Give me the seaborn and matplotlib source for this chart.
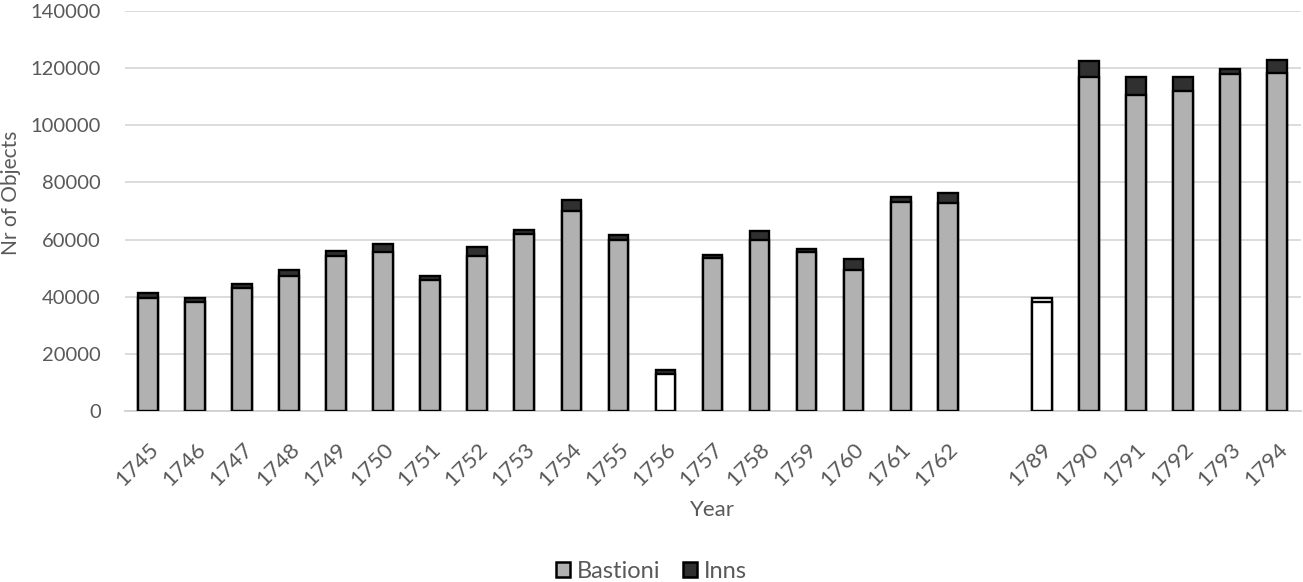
import matplotlib
matplotlib.use("Agg")
import matplotlib.pyplot as plt
from matplotlib.patches import Patch
import seaborn as sns
import pandas as pd

# ---- data ----
years = ['1745', '1746', '1747', '1748', '1749', '1750', '1751', '1752', '1753',
         '1754', '1755', '1756', '1757', '1758', '1759', '1760', '1761', '1762',
         '1789', '1790', '1791', '1792', '1793', '1794']
bastioni = [39500, 38000, 43000, 47200, 54300, 55800, 46000, 54300, 61800,
            70000, 59800, 13000, 53700, 60000, 55600, 49400, 73300, 72700,
            38000, 117000, 110500, 112000, 118000, 118400]
inns = [1800, 1500, 1500, 2000, 1700, 2700, 1200, 3200, 1600,
        4000, 1700, 1200, 1000, 2900, 1200, 3700, 1700, 3500,
        1700, 5500, 6300, 4800, 1700, 4300]
partial_bastioni = ['1756', '1789']   # drawn unfilled
partial_inns = ['1789']
gap_label = ' '
order = years[:18] + [gap_label] + years[18:]

df = pd.DataFrame({'Year': years, 'Bastioni': bastioni, 'Inns': inns})
df['Total'] = df['Bastioni'] + df['Inns']

GRAY = '#b1b1b1'
DARK = '#303030'
TXT = '#595959'

sns.set_theme(style='white')
plt.rcParams['font.family'] = ['Lato', 'DejaVu Sans']

fig = plt.figure(figsize=(13.03, 5.82), dpi=100)
ax = fig.add_axes([124.5 / 1303, 1 - 411 / 582, 1176 / 1303, 400 / 582])

pal_total = {y: ('white' if y in partial_inns else DARK) for y in years}
pal_bast = {y: ('white' if y in partial_bastioni else GRAY) for y in years}

sns.barplot(data=df, x='Year', y='Total', hue='Year', order=order, hue_order=years,
            palette=pal_total, dodge=False, legend=False, width=0.42,
            edgecolor='black', linewidth=1.7, ax=ax, zorder=3)
sns.barplot(data=df, x='Year', y='Bastioni', hue='Year', order=order, hue_order=years,
            palette=pal_bast, dodge=False, legend=False, width=0.42,
            edgecolor='black', linewidth=1.7, ax=ax, zorder=3)

ax.set_ylim(0, 140000)
ax.set_xlim(-0.5, len(order) - 0.5)
ax.set_yticks(range(0, 140001, 20000))
ax.yaxis.grid(True, color='#d9d9d9', linewidth=1.3, zorder=0)
ax.set_axisbelow(True)
for s in ['top', 'right', 'left']:
    ax.spines[s].set_visible(False)
ax.spines['bottom'].set_color('#d0d0d0')
ax.spines['bottom'].set_linewidth(1.3)

ax.tick_params(axis='y', length=0, pad=17, labelsize=14.5, labelcolor=TXT)
ax.tick_params(axis='x', length=0, pad=20, labelsize=16, labelcolor=TXT)
for lab in ax.get_xticklabels():
    lab.set_rotation(45)
    lab.set_ha('right')
    lab.set_va('top')
    lab.set_rotation_mode('anchor')

ax.set_xlabel('')
ax.set_ylabel('')
fig.text(11 / 1303, 1 - 193 / 582, 'Nr of Objects', rotation=90, ha='center',
         va='center', fontsize=15, color=TXT)
fig.text(712 / 1303, 1 - 510 / 582, 'Year', ha='center', va='center',
         fontsize=16, color=TXT)

handles = [Patch(facecolor=GRAY, edgecolor='black', linewidth=1.8, label='Bastioni'),
           Patch(facecolor=DARK, edgecolor='black', linewidth=1.8, label='Inns')]
leg = fig.legend(handles=handles, loc='center', bbox_to_anchor=(0.5, 1 - 571 / 582),
                 ncol=2, frameon=False, fontsize=17, handlelength=0.6,
                 handleheight=0.6, handletextpad=0.3, columnspacing=0.95)
for t in leg.get_texts():
    t.set_color(TXT)

fig.savefig('out.png', dpi=100)
